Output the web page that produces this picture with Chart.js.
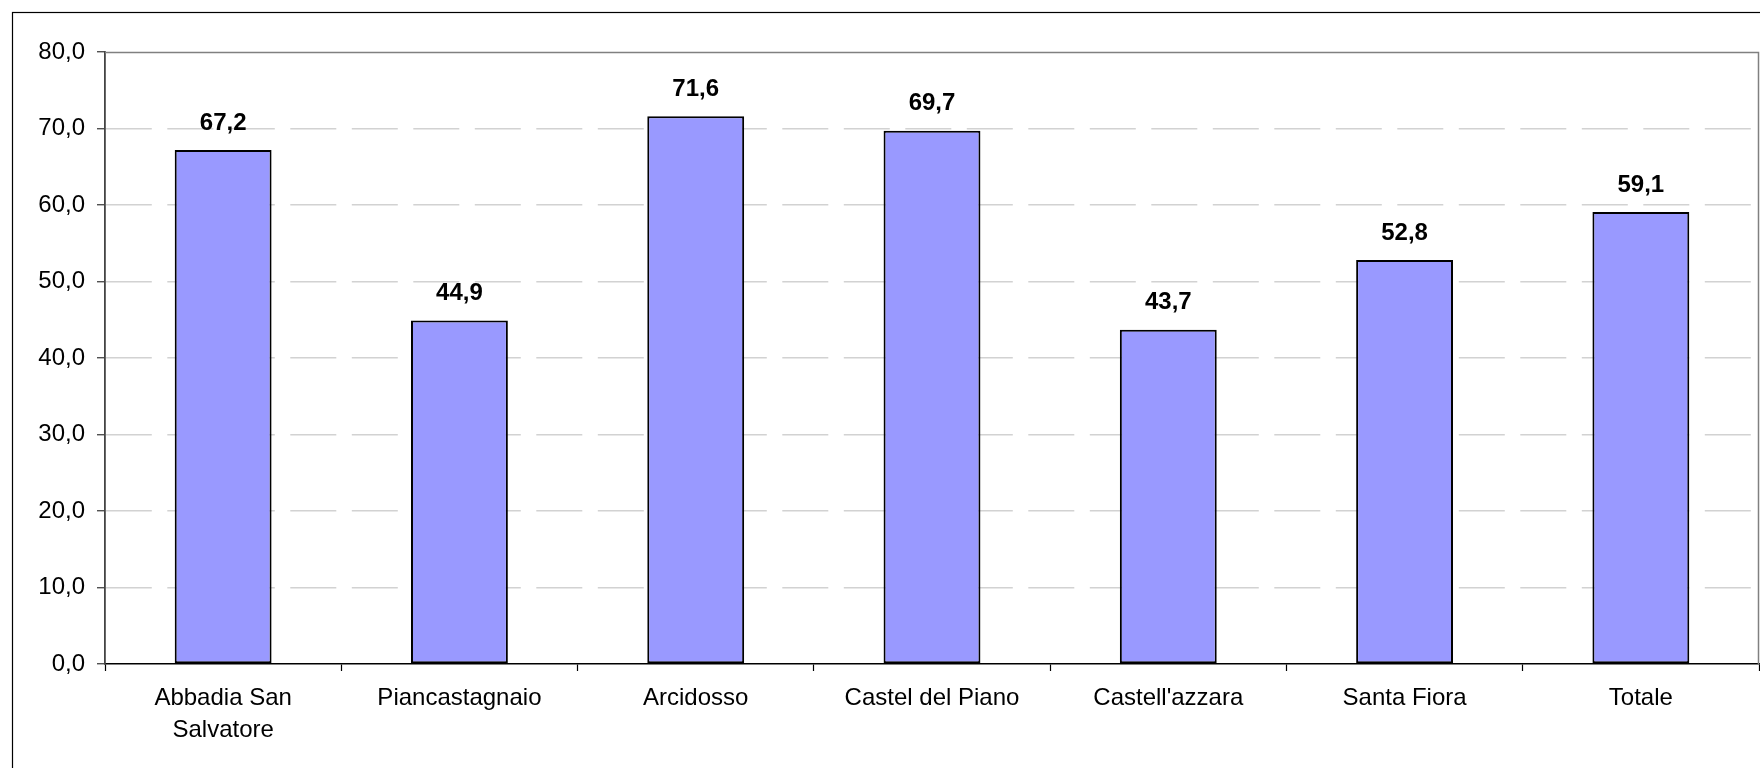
<!DOCTYPE html>
<html>
<head>
<meta charset="utf-8">
<script src="https://cdn.jsdelivr.net/npm/chart.js@4/dist/chart.umd.min.js"></script>
<style>
  html, body { margin: 0; padding: 0; background: #fff; }
  #wrap { width: 1760px; height: 768px; position: relative; }
</style>
</head>
<body>
<div id="wrap"><canvas id="c" width="1760" height="768"></canvas></div>
<script>
const categories = [["Abbadia San", "Salvatore"], "Piancastagnaio", "Arcidosso", "Castel del Piano", "Castell'azzara", "Santa Fiora", "Totale"];
const values = [67.2, 44.9, 71.6, 69.7, 43.7, 52.8, 59.1];
const yMin = 0, yMax = 80, yStep = 10;

const fmt = v => Number(v).toFixed(1).replace('.', ',');
const FONT = '"Liberation Sans", Arial, sans-serif';

const framePlugin = {
  id: 'frame',
  beforeDraw(chart) {
    const ctx = chart.ctx;
    ctx.save();
    ctx.fillStyle = '#fff';
    ctx.fillRect(0, 0, chart.width, chart.height);
    ctx.strokeStyle = '#000';
    ctx.lineWidth = 1.2;
    ctx.strokeRect(12.5, 12.5, 1800, 900);
    ctx.restore();
  },
  beforeDatasetsDraw(chart) {
    const {ctx, chartArea: a} = chart;
    ctx.save();
    ctx.strokeStyle = '#808080';
    ctx.lineWidth = 1.5;
    ctx.beginPath();
    ctx.moveTo(a.left, a.top + 0.5);
    ctx.lineTo(a.right - 0.5, a.top + 0.5);
    ctx.lineTo(a.right - 0.5, a.bottom);
    ctx.stroke();
    ctx.restore();
  }
};

const labelPlugin = {
  id: 'barLabels',
  afterDatasetsDraw(chart) {
    const ctx = chart.ctx;
    const meta = chart.getDatasetMeta(0);
    ctx.save();
    ctx.font = 'bold 24px ' + FONT;
    ctx.fillStyle = '#000';
    ctx.textAlign = 'center';
    ctx.textBaseline = 'middle';
    meta.data.forEach((bar, i) => {
      ctx.fillText(fmt(chart.data.datasets[0].data[i]), bar.x, bar.y - 27);
    });
    ctx.restore();
  }
};

new Chart(document.getElementById('c'), {
  type: 'bar',
  data: {
    labels: categories,
    datasets: [{
      data: values,
      backgroundColor: '#9999FF',
      borderColor: '#000',
      borderWidth: 2,
      borderSkipped: false,
      barPercentage: 0.41,
      categoryPercentage: 1.0
    }]
  },
  options: {
    responsive: false,
    animation: false,
    devicePixelRatio: 1,
    layout: { padding: { top: 52, right: 1, left: 0, bottom: 0 } },
    plugins: { legend: { display: false }, tooltip: { enabled: false } },
    scales: {
      x: {
        grid: { offset: true, drawOnChartArea: false, tickLength: 7, tickColor: '#000', tickWidth: 1.2 },
        border: { color: '#000', width: 1.5 },
        ticks: {
          color: '#000',
          padding: 11,
          maxRotation: 0,
          autoSkip: false,
          font: { family: FONT, size: 24, lineHeight: 1.33 }
        },
        afterFit(s) { s.height = 104; }
      },
      y: {
        min: yMin, max: yMax,
        grid: {
          color: ctx => (ctx.tick && (ctx.tick.value === yMin || ctx.tick.value === yMax)) ? 'rgba(0,0,0,0)' : '#d2d2d2',
          lineWidth: 1.5,
          tickLength: 8,
          tickColor: '#333',
          tickWidth: 1.2
        },
        border: { color: '#444', width: 1.8, dash: [46, 15.5] },
        ticks: {
          stepSize: yStep,
          color: '#000',
          padding: 12,
          font: { family: FONT, size: 24 },
          callback: v => fmt(v)
        },
        afterFit(s) { s.width = 105; }
      }
    }
  },
  plugins: [framePlugin, labelPlugin]
});
</script>
</body>
</html>
